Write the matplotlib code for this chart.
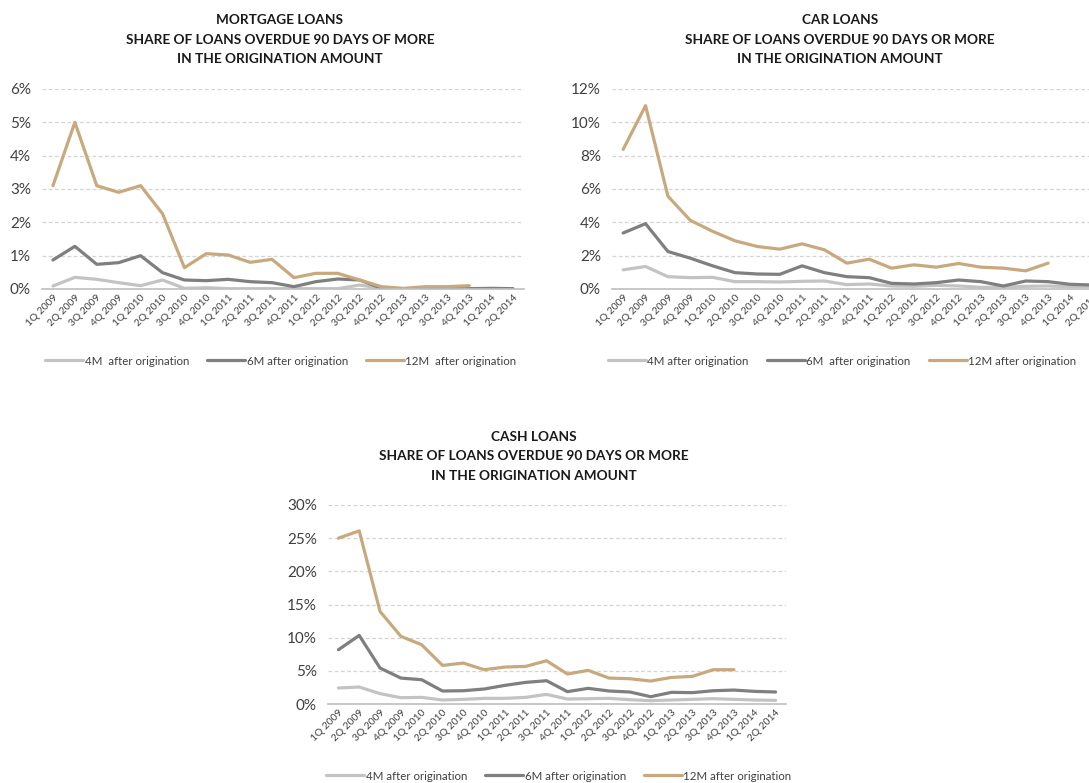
import numpy as np
import matplotlib
matplotlib.use("Agg")
import matplotlib.pyplot as plt
from matplotlib.ticker import FuncFormatter, MultipleLocator

plt.rcParams["font.family"] = ["Lato", "DejaVu Sans"]

nan = np.nan

quarters = [f"{q}Q {y}" for y in range(2009, 2015) for q in range(1, 5)][:22]

# shares of loans overdue 90+ days, % of origination amount
mortgage_4m = [0.09, 0.35, 0.29, 0.19, 0.10, 0.27, 0.02, 0.04, 0.01, 0.01, 0.01,
               0.01, 0.01, 0.01, 0.12, 0.02, 0.00, 0.00, 0.00, 0.00, 0.00, 0.00]
mortgage_6m = [0.87, 1.28, 0.74, 0.79, 1.00, 0.49, 0.27, 0.25, 0.29, 0.22, 0.19,
               0.07, 0.22, 0.30, 0.27, 0.02, 0.01, 0.01, 0.01, 0.01, 0.02, 0.01]
mortgage_12m = [3.10, 5.00, 3.10, 2.90, 3.10, 2.26, 0.64, 1.06, 1.02, 0.80, 0.89,
                0.34, 0.47, 0.47, 0.27, 0.07, 0.02, 0.07, 0.07, 0.10, nan, nan]

car_4m = [1.15, 1.35, 0.74, 0.68, 0.70, 0.44, 0.44, 0.42, 0.46, 0.48, 0.26,
          0.30, 0.18, 0.16, 0.22, 0.18, 0.10, 0.10, 0.16, 0.18, 0.14, 0.14]
car_6m = [3.36, 3.92, 2.25, 1.85, 1.39, 0.98, 0.90, 0.88, 1.39, 0.98, 0.74,
          0.68, 0.34, 0.30, 0.38, 0.54, 0.44, 0.18, 0.48, 0.44, 0.28, 0.24]
car_12m = [8.38, 11.0, 5.57, 4.12, 3.46, 2.89, 2.55, 2.39, 2.71, 2.35, 1.55,
           1.79, 1.25, 1.45, 1.31, 1.53, 1.31, 1.25, 1.09, 1.55, nan, nan]

cash_4m = [2.41, 2.56, 1.56, 0.95, 1.00, 0.60, 0.70, 0.85, 0.85, 1.00, 1.45,
           0.75, 0.80, 0.85, 0.65, 0.50, 0.60, 0.70, 0.80, 0.70, 0.60, 0.55]
cash_6m = [8.18, 10.34, 5.42, 3.91, 3.66, 1.96, 2.00, 2.26, 2.81, 3.26, 3.51,
           1.86, 2.36, 1.96, 1.81, 1.10, 1.76, 1.71, 2.00, 2.10, 1.90, 1.81]
cash_12m = [25.0, 26.1, 13.95, 10.2, 8.93, 5.82, 6.17, 5.17, 5.57, 5.67, 6.52,
            4.52, 5.07, 3.91, 3.81, 3.46, 4.01, 4.16, 5.17, 5.17, nan, nan]

colors = ["#c3c3c3", "#7f7f7f", "#c8a97e"]

W, H = 1089, 783
fig = plt.figure(figsize=(W / 100, H / 100), dpi=100)


def px_axes(left, top, right, bottom):
    return fig.add_axes([left / W, 1 - bottom / H, (right - left) / W, (bottom - top) / H])


def draw(ax, series, labels, ymax, ystep, title_lines, tx, ty, leg_x, leg_y):
    x = np.arange(len(quarters))
    for vals, lab, c in zip(series, labels, colors):
        ax.plot(x, vals, color=c, lw=2.3, label=lab, solid_joinstyle="round",
                solid_capstyle="round")
    ax.set_xlim(-0.5, len(quarters) - 0.5)
    ax.set_ylim(0, ymax)
    ax.yaxis.set_major_locator(MultipleLocator(ystep))
    ax.yaxis.set_major_formatter(FuncFormatter(lambda v, _: f"{v:.0f}%"))
    ax.grid(axis="y", color="#d4d4d4", lw=0.9, ls=(0, (3, 2)))
    ax.set_axisbelow(True)
    for s in ["top", "right", "left"]:
        ax.spines[s].set_visible(False)
    ax.spines["bottom"].set_color("#bfbfbf")
    ax.spines["bottom"].set_linewidth(1.2)
    ax.tick_params(axis="y", length=0, pad=8, labelsize=11, labelcolor="#404040")
    ax.tick_params(axis="x", length=0, pad=3, labelsize=7.4, labelcolor="#404040")
    ax.set_xticks(x)
    ax.set_xticklabels(quarters, rotation=45, ha="right", rotation_mode="anchor")
    for i, line in enumerate(title_lines):
        fig.text(tx / W, 1 - (ty + 19.5 * i) / H, line, ha="center", va="center",
                 fontsize=9.8, fontweight="bold", color="#1a1a1a")
    fig.legend(handles=ax.get_lines(), loc="center", bbox_to_anchor=(leg_x / W, 1 - leg_y / H),
               ncol=3, frameon=False, fontsize=8.3, handlelength=3.3, handletextpad=0.1,
               columnspacing=1.6, labelcolor="#404040")


ax1 = px_axes(42, 89, 524, 289)
draw(ax1, [mortgage_4m, mortgage_6m, mortgage_12m],
     ["4M  after origination", "6M after origination", "12M  after origination"],
     6, 1, ["MORTGAGE LOANS", "SHARE OF LOANS OVERDUE 90 DAYS OF MORE", "IN THE ORIGINATION AMOUNT"],
     280, 20, 281, 361)

ax2 = px_axes(612, 89, 1104, 289)
draw(ax2, [car_4m, car_6m, car_12m],
     ["4M after origination", "6M  after origination", "12M after origination"],
     12, 2, ["CAR LOANS", "SHARE OF LOANS OVERDUE 90 DAYS OR MORE", "IN THE ORIGINATION AMOUNT"],
     840, 20, 842, 361)

ax3 = px_axes(328, 505, 786, 704)
draw(ax3, [cash_4m, cash_6m, cash_12m],
     ["4M after origination", "6M after origination", "12M after origination"],
     30, 5, ["CASH LOANS", "SHARE OF LOANS OVERDUE 90 DAYS OR MORE", "IN THE ORIGINATION AMOUNT"],
     534, 437, 559, 776)

fig.savefig("out.png", dpi=100, facecolor="white")
